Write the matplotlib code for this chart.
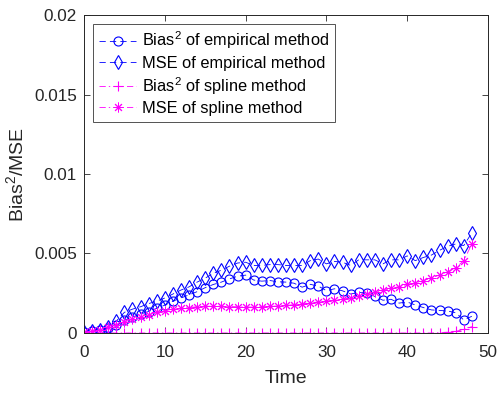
import matplotlib
matplotlib.use("Agg")
import matplotlib.pyplot as plt
import numpy as np

plt.rcParams["font.family"] = ["Liberation Sans", "DejaVu Sans"]
plt.rcParams["mathtext.fontset"] = "custom"
plt.rcParams["mathtext.rm"] = "Liberation Sans"
plt.rcParams["mathtext.it"] = "Liberation Sans:italic"
plt.rcParams["lines.scale_dashes"] = False

time = np.arange(49)

# values in units of 1e-3
bias_empirical = [0.05, 0.1, 0.2, 0.3, 0.5, 0.8, 1.0, 1.2, 1.35, 1.55,
                  1.75, 2.0, 2.2, 2.4, 2.6, 2.85, 3.05, 3.2, 3.4, 3.57,
                  3.64, 3.33, 3.26, 3.3, 3.22, 3.2, 3.13, 2.88, 3.06, 2.95,
                  2.66, 2.78, 2.65, 2.45, 2.55, 2.5, 2.3, 2.06, 2.12, 1.88,
                  1.95, 1.76, 1.6, 1.45, 1.42, 1.38, 1.28, 0.82, 1.05]
mse_empirical = [0.05, 0.1, 0.2, 0.4, 0.75, 1.3, 1.5, 1.65, 1.85, 2.0,
                 2.2, 2.45, 2.7, 2.9, 3.2, 3.45, 3.75, 3.95, 4.2, 4.4,
                 4.45, 4.25, 4.25, 4.3, 4.3, 4.25, 4.25, 4.25, 4.55, 4.65,
                 4.35, 4.5, 4.45, 4.25, 4.6, 4.6, 4.6, 4.35, 4.6, 4.6,
                 4.85, 4.55, 4.75, 4.9, 5.2, 5.45, 5.6, 5.5, 6.3]
bias_spline = [0.0] * 44 + [0.02, 0.05, 0.1, 0.22, 0.4]
mse_spline = [0.05, 0.1, 0.2, 0.35, 0.5, 0.7, 0.85, 1.0, 1.15, 1.3,
              1.4, 1.5, 1.55, 1.6, 1.65, 1.68, 1.68, 1.68, 1.66, 1.65,
              1.63, 1.63, 1.65, 1.67, 1.7, 1.73, 1.78, 1.84, 1.9, 1.95,
              2.0, 2.05, 2.12, 2.2, 2.3, 2.45, 2.55, 2.68, 2.8, 2.92,
              3.05, 3.15, 3.3, 3.45, 3.65, 3.85, 4.1, 4.55, 5.6]

y_ticks = [0, 0.005, 0.01, 0.015, 0.02]
y_tick_labels = ["0", "0.005", "0.01", "0.015", "0.02"]
x_ticks = [0, 10, 20, 30, 40, 50]

blue = (0, 0, 1)
magenta = (1, 0, 1)
dashed = (0, (4.5, 3.0))
dashdot = (0, (4.5, 2.2, 1.0, 2.2))

fig = plt.figure(figsize=(5.0, 3.95), dpi=100)
ax = fig.add_axes([0.168, 0.157, 0.808, 0.805])

scale = 1e-3
ax.plot(time, np.array(bias_empirical) * scale, ls=dashed, color=blue, lw=0.6,
        marker="o", ms=6.5, mfc="none", mew=0.8, label="Bias$^2$ of empirical method")
ax.plot(time, np.array(mse_empirical) * scale, ls=dashed, color=blue, lw=0.6,
        marker="d", ms=7, mfc="none", mew=0.8, label="MSE of empirical method")
ax.plot(time, np.array(bias_spline) * scale, ls=dashdot, color=magenta, lw=0.6,
        marker="+", ms=7.5, mew=0.8, label="Bias$^2$ of spline method")
ax.plot(time, np.array(mse_spline) * scale, ls=dashdot, color=magenta, lw=0.6,
        marker=(8, 2, 0), ms=7, mew=0.7, label="MSE of spline method")

ax.set_xlim(0, 50)
ax.set_ylim(0, 0.02)
ax.set_xticks(x_ticks)
ax.set_yticks(y_ticks)
ax.set_yticklabels(y_tick_labels)
ax.tick_params(direction="in", top=True, right=True, labelsize=12.3,
               length=4, width=0.6, colors="#262626")
ax.tick_params(axis="x", pad=9)
ax.tick_params(axis="y", pad=5)
for sp in ax.spines.values():
    sp.set_linewidth(0.7)
    sp.set_color("#262626")

ax.set_xlabel("Time", fontsize=14, color="#262626", labelpad=7)
ax.set_ylabel("Bias$^2$/MSE", fontsize=14, color="#262626", labelpad=5)

leg = ax.legend(loc="upper left", fontsize=11.8, frameon=True, fancybox=False,
                edgecolor="#262626", handlelength=2.3, handletextpad=0.35,
                labelspacing=0.26, borderpad=0.35, borderaxespad=0.55)
leg.get_frame().set_linewidth(0.7)

fig.savefig("out.png", dpi=100)
